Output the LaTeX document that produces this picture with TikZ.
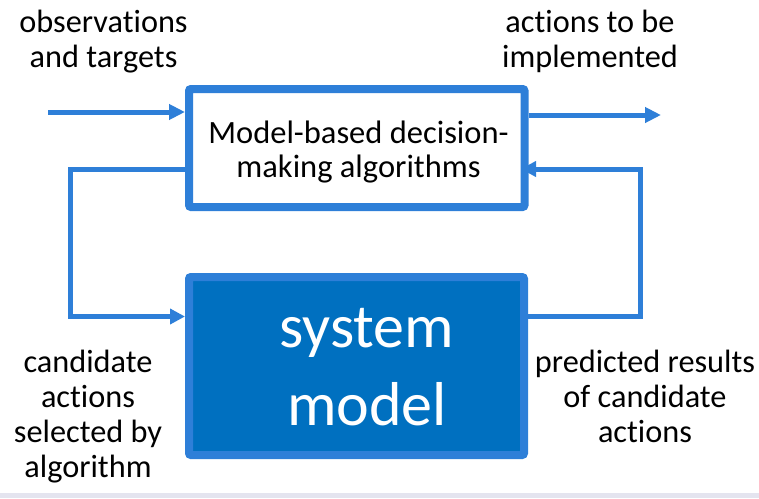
\documentclass[tikz,border=0pt]{standalone}
\usepackage{fontspec}
\setmainfont{Carlito}[Ligatures=NoCommon]
\usetikzlibrary{arrows.meta,backgrounds}
\definecolor{lineblue}{HTML}{2E7FD8}
\definecolor{fillblue}{HTML}{0070C0}
\definecolor{stripgray}{HTML}{E4E4EF}
\tikzset{
  flow/.style={draw=lineblue, line width=5pt, -{Triangle[length=16pt,width=15pt]}},
  loop/.style={draw=lineblue, line width=5pt, -{Triangle[length=15pt,width=15pt]}},
  label/.style={align=center, anchor=base, inner sep=0pt,
    font=\fontsize{32.3}{35}\selectfont},
  algobox/.style={draw=lineblue, line width=8pt, fill=white, rounded corners=2pt,
    minimum width=335.5pt, minimum height=118pt, inner sep=0pt},
  modelbox/.style={draw=lineblue, line width=8pt, fill=fillblue, rounded corners=2pt,
    minimum width=335pt, minimum height=178pt, inner sep=0pt},
}
\begin{document}
\begin{tikzpicture}[x=1pt,y=-1pt]
\useasboundingbox (0,0) rectangle (759,498);
\fill[stripgray] (0,493) rectangle (759,498);

% the two blocks
\node[algobox] (algo) at (356.75,148) {};
\node[modelbox] (model) at (356.5,366) {};

% block texts (anchored at the baseline of their last line)
\node[label, font=\fontsize{32.5}{34}\selectfont] (algotext) at (358.5,177)
  {Model-based decision-\\making algorithms};
\node[label, text=white, font=\fontsize{62}{78}\selectfont] (modeltext) at (367,425)
  {system\\model};

% outside labels
\node[label] (obs) at (103.5,67) {observations\\and targets};
\node[label] (act) at (590,67) {actions to be\\implemented};
\node[label] (cand) at (88,477) {candidate\\actions\\selected by\\algorithm};
\node[label] (pred) at (645,442) {predicted results\\of candidate\\actions};

% connectors
\coordinate (inStart) at (48,112);
\coordinate (outEnd) at (661,115);
\coordinate (leftUp) at (70.5,169);
\coordinate (leftDown) at (70.5,316.5);
\coordinate (rightDown) at (640,316.5);
\coordinate (rightUp) at (640,169);
\coordinate (rightTip) at (521,169);

\draw[flow] (inStart) -- (algo.west |- inStart);
\draw[flow] (algo.east |- outEnd) -- (outEnd);
\draw[loop] (algo.west |- leftUp) -- (leftUp) -- (leftDown) -- (model.west |- leftDown);
\begin{scope}[on background layer]
\draw[loop] (model.east |- rightDown) -- (rightDown) -- (rightUp) -- (rightTip);
\end{scope}
\end{tikzpicture}
\end{document}
